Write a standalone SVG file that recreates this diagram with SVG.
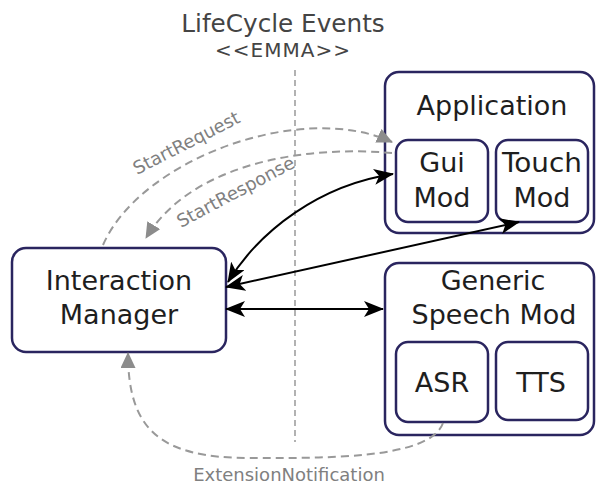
<svg xmlns="http://www.w3.org/2000/svg" width="596" height="485" viewBox="0 0 596 485">
<defs>
<style>
.box{fill:#fff;stroke:#2a255f;stroke-width:2.5}
.lbl{font-family:"DejaVu Sans",Verdana,sans-serif;font-size:27px;fill:#1e1e1e;text-anchor:middle}
.title{font-family:"DejaVu Sans",Verdana,sans-serif;fill:#444;text-anchor:middle}
.glbl{font-family:"DejaVu Sans",Verdana,sans-serif;font-size:18px;fill:#808080}
.blk{fill:none;stroke:#000;stroke-width:2}
.gry{fill:none;stroke:#999;stroke-width:2;stroke-dasharray:8 5}
</style>
<marker id="ab" viewBox="0 0 20 16" refX="19" refY="8" markerWidth="20" markerHeight="16" markerUnits="userSpaceOnUse" orient="auto-start-reverse">
<path d="M0,0 L20,8 L0,16 L5,8 Z" fill="#000"/>
</marker>
<marker id="ag" viewBox="0 0 16 15" refX="15" refY="7.5" markerWidth="16" markerHeight="15" markerUnits="userSpaceOnUse" orient="auto">
<path d="M0,0 L16,7.5 L0,15 Z" fill="#8c8c8c"/>
</marker>
</defs>
<rect width="596" height="485" fill="#fff"/>
<g id="title">
<text class="title" x="283" y="32" font-size="24.7">LifeCycle Events</text>
<text class="title" x="283" y="57" font-size="20" letter-spacing="1">&lt;&lt;EMMA&gt;&gt;</text>
<line x1="295" y1="70" x2="295" y2="442" stroke="#999" stroke-width="1.5" stroke-dasharray="6 4"/>
</g>
<g id="application">
<rect class="box" x="385" y="72" width="209" height="161" rx="14"/>
<text class="lbl" x="492" y="115">Application</text>
</g>
<g id="guimod">
<rect class="box" x="396" y="140" width="92" height="82" rx="12"/>
<text class="lbl" x="442" y="172">Gui</text>
<text class="lbl" x="442" y="207">Mod</text>
</g>
<g id="touchmod">
<rect class="box" x="496" y="140" width="92" height="82" rx="12"/>
<text class="lbl" x="542" y="172" textLength="80" lengthAdjust="spacingAndGlyphs">Touch</text>
<text class="lbl" x="542" y="207">Mod</text>
</g>
<g id="interactionmanager">
<rect class="box" x="12" y="248" width="214" height="104" rx="14"/>
<text class="lbl" x="119" y="290">Interaction</text>
<text class="lbl" x="119" y="324">Manager</text>
</g>
<g id="speechmod">
<rect class="box" x="385" y="263" width="209" height="172" rx="14"/>
<text class="lbl" x="493" y="290">Generic</text>
<text class="lbl" x="494" y="324">Speech Mod</text>
</g>
<g id="asr">
<rect class="box" x="396" y="342" width="92" height="80" rx="12"/>
<text class="lbl" x="442" y="392">ASR</text>
</g>
<g id="tts">
<rect class="box" x="496" y="342" width="92" height="78" rx="12"/>
<text class="lbl" x="541" y="392">TTS</text>
</g>
<g id="connectors">
<path class="gry" d="M103,245 C140,160 300,100 392,142" marker-end="url(#ag)"/>
<path class="gry" d="M392,153 C300,145 190,165 146,238" marker-end="url(#ag)"/>
<path class="gry" d="M443,423 C430,460 320,458 250,458 C160,458 128,430 128,353" marker-end="url(#ag)"/>
<path class="blk" d="M228,282 C260,230 320,185 393,174" marker-start="url(#ab)" marker-end="url(#ab)"/>
<path class="blk" d="M226,287 L519,222" marker-start="url(#ab)" marker-end="url(#ab)"/>
<path class="blk" d="M226,309 L383,309" marker-start="url(#ab)" marker-end="url(#ab)"/>
<text class="glbl" transform="translate(137,175) rotate(-27)">StartRequest</text>
<text class="glbl" transform="translate(181,228) rotate(-28)">StartResponse</text>
<text class="glbl" x="289" y="481" text-anchor="middle" font-size="18.4">ExtensionNotification</text>
</g>
</svg>
